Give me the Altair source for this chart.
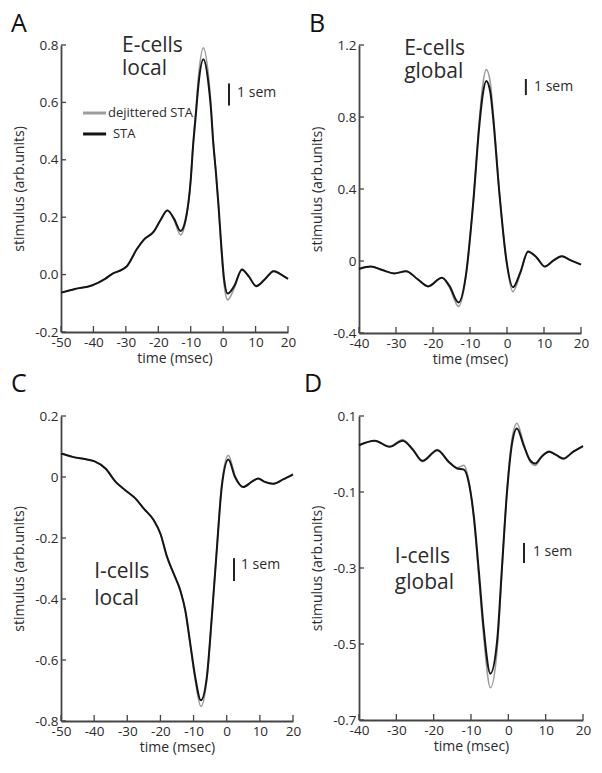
import altair as alt
import pandas as pd

FONT = "Open Sans"
TXT = "#2b2b2b"
GREY = "#9d9d9d"
BLACK = "#151515"

# ---------------- Panel A : E-cells local ----------------
a_t = [-50, -45.7, -40.5, -36.4, -34.3, -31.2, -29.7, -26.6, -24.5, -21.4, -19.3, -17.2,
       -15.2, -13.1, -11.6, -10, -9.3, -8.4, -7.6, -6.1, -4.5, -3.8, -3.1, -2.2, -1.4, -0.7,
       0.3, 1.4, 3.4, 5.8, 7.9, 10.2, 12.8, 15.6, 17.9, 20]
a_sta = [-0.063, -0.05, -0.038, -0.015, 0.002, 0.017, 0.029, 0.089, 0.121, 0.15, 0.19, 0.223,
         0.196, 0.152, 0.19, 0.329, 0.444, 0.56, 0.663, 0.75, 0.663, 0.583, 0.467, 0.352, 0.237, 0.121,
         -0.017, -0.066, -0.04, 0.017, -0.006, -0.04, -0.017, 0.012, 0.0, -0.015]
a_dj = [-0.063, -0.05, -0.038, -0.015, 0.002, 0.017, 0.029, 0.089, 0.121, 0.15, 0.19, 0.225,
        0.192, 0.138, 0.185, 0.329, 0.45, 0.575, 0.69, 0.79, 0.69, 0.6, 0.475, 0.352, 0.23, 0.11,
        -0.035, -0.088, -0.048, 0.02, -0.006, -0.042, -0.017, 0.013, 0.0, -0.015]

# ---------------- Panel B : E-cells global ----------------
b_t = [-40, -36.8, -33.7, -30.5, -27.3, -24.2, -21.3, -17.6, -15.6, -13.1, -11, -9.2, -7.4,
       -6.6, -5.6, -4.5, -3.8, -2, -0.2, 1.6, 3.6, 5.7, 8, 10.2, 12.5, 14.8, 17, 20]
b_sta = [-0.044, -0.031, -0.05, -0.069, -0.057, -0.1, -0.141, -0.093, -0.137, -0.23, -0.063, 0.307, 0.77,
         0.918, 1.0, 0.937, 0.807, 0.363, 0.011, -0.146, -0.063, 0.052, 0.02, -0.03, 0.002, 0.026, 0.006, -0.02]
b_dj = [-0.044, -0.031, -0.05, -0.069, -0.057, -0.1, -0.141, -0.093, -0.145, -0.252, -0.07, 0.31, 0.8,
        0.97, 1.063, 0.99, 0.84, 0.37, 0.0, -0.17, -0.07, 0.055, 0.02, -0.032, 0.002, 0.027, 0.006, -0.02]

# ---------------- Panel C : I-cells local ----------------
c_t = [-50, -46.5, -42.5, -40, -36.5, -33.5, -30.5, -27.5, -25, -22, -20, -18, -16, -14, -12.5,
       -11, -9.5, -7.8, -6, -4.5, -3, -1.5, 0.5, 2.5, 5, 7.5, 9.5, 11.5, 14, 17, 20]
c_sta = [0.077, 0.066, 0.058, 0.052, 0.027, -0.016, -0.044, -0.071, -0.104, -0.142, -0.186, -0.262,
         -0.317, -0.372, -0.437, -0.546, -0.656, -0.732, -0.656, -0.459, -0.24, -0.033, 0.057, 0.0,
         -0.033, -0.016, -0.005, -0.016, -0.022, -0.008, 0.009]
c_dj = [0.079, 0.066, 0.058, 0.052, 0.027, -0.016, -0.044, -0.071, -0.104, -0.142, -0.186, -0.262,
        -0.317, -0.372, -0.44, -0.552, -0.665, -0.752, -0.665, -0.462, -0.235, -0.025, 0.071, 0.005,
        -0.033, -0.016, -0.005, -0.016, -0.022, -0.008, 0.009]

# ---------------- Panel D : I-cells global ----------------
d_t = [-40, -35.8, -31.8, -28.3, -25.6, -23, -19, -15.9, -13.7, -11.9, -10.6, -9.2, -7.9, -6.6,
       -4.8, -3, -1.7, -0.4, 1, 2.3, 4.1, 5.8, 7.2, 8.9, 10.9, 12.9, 14.7, 17.4, 20]
d_sta = [0.023, 0.035, 0.019, 0.035, 0.012, -0.018, 0.01, -0.021, -0.038, -0.041, -0.075, -0.168,
         -0.309, -0.459, -0.578, -0.492, -0.298, -0.106, 0.028, 0.067, 0.023, -0.016, -0.025, -0.007,
         0.006, -0.003, -0.012, 0.006, 0.021]
d_dj = [0.023, 0.035, 0.02, 0.038, 0.012, -0.02, 0.012, -0.023, -0.036, -0.03, -0.07, -0.175,
        -0.325, -0.48, -0.615, -0.515, -0.305, -0.1, 0.04, 0.081, 0.028, -0.02, -0.03, -0.008,
        0.008, -0.003, -0.014, 0.006, 0.021]

LEGEND_LABELS = ["dejittered STA", "STA"]


def make_panel(t, sta, dj, xdom, ydom, xticks, yticks, ylabel_expr, w, h,
               letter, letter_pos, cell_lines, cell_pos, bar, sem_pos, legend=None):
    df = pd.DataFrame({"t": list(t) + list(t),
                       "v": list(dj) + list(sta),
                       "s": ["dj"] * len(t) + ["sta"] * len(t)})
    xs = alt.Scale(domain=xdom, nice=False, zero=False)
    ys = alt.Scale(domain=ydom, nice=False, zero=False)
    xax = alt.Axis(values=xticks, title="time (msec)", ticks=False, grid=False,
                   labelExpr="'' + datum.value", labelPadding=3, titlePadding=3,
                   labelOverlap=False, labelFlush=False, labelBound=False)
    yax = alt.Axis(values=yticks, title="stimulus (arb.units)", ticks=False, grid=False,
                   labelExpr=ylabel_expr, labelPadding=3, titlePadding=8,
                   labelOverlap=False, labelFlush=False, labelBound=False)

    def X(field="t"):
        return alt.X(f"{field}:Q", scale=xs, axis=xax)

    def Y(field="v"):
        return alt.Y(f"{field}:Q", scale=ys, axis=yax)

    base = alt.Chart(df)
    grey = base.transform_filter(alt.datum.s == "dj").mark_line(
        color=GREY, strokeWidth=1.6, interpolate="monotone").encode(x=X(), y=Y())
    black = base.transform_filter(alt.datum.s == "sta").mark_line(
        color=BLACK, strokeWidth=2.0, interpolate="monotone").encode(x=X(), y=Y())

    # inward ticks
    ytk = alt.Chart(pd.DataFrame({"v": yticks})).mark_rule(color="#444", strokeWidth=1.3).encode(
        y=Y(), x=alt.value(0), x2=alt.value(5))
    xtk = alt.Chart(pd.DataFrame({"t": xticks})).mark_rule(color="#444", strokeWidth=1.3).encode(
        x=X(), y=alt.value(h), y2=alt.value(h - 6))

    # panel letter
    let = alt.Chart(pd.DataFrame({"t": [letter_pos[0]], "v": [letter_pos[1]], "txt": [letter]})).mark_text(
        font=FONT, fontSize=25, color="#111", align="left", baseline="alphabetic").encode(
        x=X(), y=Y(), text="txt:N")

    # cell type label
    cell = alt.Chart(pd.DataFrame({"t": [cell_pos[0]] * 2, "v": [cell_pos[1], cell_pos[2]],
                                   "txt": cell_lines})).mark_text(
        font=FONT, fontSize=21, color=TXT, align="left", baseline="alphabetic").encode(
        x=X(), y=Y(), text="txt:N")

    # 1 sem bar
    semb = alt.Chart(pd.DataFrame({"t": [bar[0]], "v1": [bar[1]], "v2": [bar[2]]})).mark_rule(
        color="#222", strokeWidth=2).encode(x=X(), y=Y("v1"), y2="v2:Q")
    semt = alt.Chart(pd.DataFrame({"t": [sem_pos[0]], "v": [sem_pos[1]], "txt": ["1 sem"]})).mark_text(
        font=FONT, fontSize=14, color=TXT, align="left", baseline="middle").encode(
        x=X(), y=Y(), text="txt:N")

    layers = [grey, black, ytk, xtk, let, cell, semb, semt]

    if legend is not None:
        lt0, lt1, lv = legend["line_t0"], legend["line_t1"], legend["v"]
        ldf = pd.DataFrame({"t0": [lt0, lt0], "t1": [lt1, lt1], "v": lv,
                            "c": [GREY, BLACK], "tt": legend["text_t"], "txt": LEGEND_LABELS})
        lr = alt.Chart(ldf).mark_rule(strokeWidth=3).encode(
            x=X("t0"), x2="t1:Q", y=Y(), color=alt.Color("c:N", scale=None))
        ltx = alt.Chart(ldf).mark_text(font=FONT, fontSize=13, color=TXT, align="left",
                                       baseline="middle").encode(
            x=X("tt"), y=Y(), text="txt:N")
        layers += [lr, ltx]

    return alt.layer(*layers).properties(width=w, height=h)


A = make_panel(a_t, a_sta, a_dj, [-50, 20], [-0.2, 0.8],
               [-50, -40, -30, -20, -10, 0, 10, 20], [-0.2, 0.0, 0.2, 0.4, 0.6, 0.8],
               "datum.value == 0 ? '0.0' : '' + datum.value", 227, 287,
               "A", (-65.4, 0.845), ["E-cells", "local"], (-31.2, 0.776, 0.695),
               (1.8, 0.666, 0.589), (4.3, 0.633),
               legend={"line_t0": -43.2, "line_t1": -36.1, "v": [0.563, 0.49],
                       "text_t": [-35.5, -34.0]})
B = make_panel(b_t, b_sta, b_dj, [-40, 20], [-0.4, 1.2],
               [-40, -30, -20, -10, 0, 10, 20], [-0.4, 0, 0.4, 0.8, 1.2],
               "'' + datum.value", 222, 288,
               "B", (-53.5, 1.272), ["E-cells", "global"], (-27.8, 1.144, 1.017),
               (5.1, 1.011, 0.922), (7.3, 0.967))
C = make_panel(c_t, c_sta, c_dj, [-50, 20], [-0.8, 0.2],
               [-50, -40, -30, -20, -10, 0, 10, 20], [-0.8, -0.6, -0.4, -0.2, 0, 0.2],
               "'' + datum.value", 232, 305,
               "C", (-65.1, 0.279), ["I-cells", "local"], (-40.0, -0.331, -0.42),
               (2.2, -0.266, -0.341), (4.3, -0.289))
D = make_panel(d_t, d_sta, d_dj, [-40, 20], [-0.7, 0.1],
               [-40, -30, -20, -10, 0, 10, 20], [-0.7, -0.5, -0.3, -0.1, 0.1],
               "'' + datum.value", 224, 304,
               "D", (-54.7, 0.163), ["I-cells", "global"], (-30.4, -0.287, -0.355),
               (4.2, -0.234, -0.287), (6.6, -0.258))

chart = alt.concat(
    A, B, C, D, columns=2, bounds="flush", align="all",
    spacing={"row": 66, "column": 66},
).properties(
    padding={"left": 2, "top": 4, "right": 0, "bottom": 0}
).configure_view(
    stroke=None
).configure_axis(
    domainColor="#444", domainWidth=1.8, labelOverlap=False,
    labelFont=FONT, labelFontSize=13.5, labelColor=TXT,
    titleFont=FONT, titleFontSize=14, titleColor=TXT, titleFontWeight="normal",
)

chart.save("out.html", embed_options={"renderer": "svg", "actions": False})
